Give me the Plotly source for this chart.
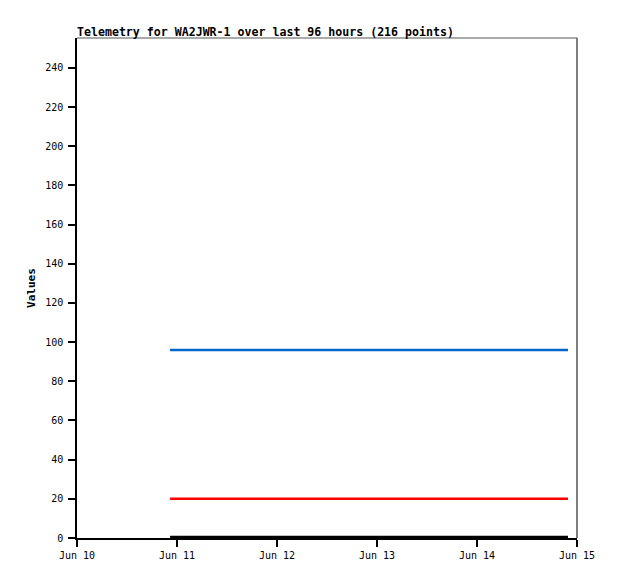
import plotly.graph_objects as go

title_text = "Telemetry for WA2JWR-1 over last 96 hours (216 points)"
times = ["2025-06-10 22:20", "2025-06-14 21:50"]
series_names = ["Value 1", "Value 2", "Value 3"]
series_values = [[96, 96], [20, 20], [0.5, 0.5]]
series_colors = ["#0066CC", "#FF0000", "#000000"]
series_widths = [2.5, 2.5, 2.5]
x_ticks = ["2025-06-10", "2025-06-11", "2025-06-12", "2025-06-13", "2025-06-14", "2025-06-15"]
x_tick_labels = ["Jun 10", "Jun 11", "Jun 12", "Jun 13", "Jun 14", "Jun 15"]
y_ticks = list(range(0, 241, 20))

W, H = 610, 571  # page body has an 8px margin

fig = go.Figure()
for name, vals, col, w in zip(series_names, series_values, series_colors, series_widths):
    fig.add_trace(go.Scatter(x=times, y=vals, mode="lines", name=name,
                             line=dict(color=col, width=w), showlegend=False))

# top and right gray border
fig.add_shape(type="line", xref="paper", yref="paper", x0=0, x1=1, y0=1, y1=1,
              line=dict(color="#555555", width=1))
fig.add_shape(type="line", xref="paper", yref="paper", x0=1, x1=1, y0=0, y1=1,
              line=dict(color="#555555", width=1.5))

fig.update_layout(
    width=W, height=H,
    margin=dict(l=69, r=41, t=30, b=41),
    paper_bgcolor="white", plot_bgcolor="white",
    font=dict(family="DejaVu Sans Mono", size=10, color="black"),
    title=dict(text="<b>" + title_text + "</b>", x=69/W, xanchor="left",
               y=1 - 23.5/H, yanchor="middle",
               font=dict(family="DejaVu Sans Mono", size=11.6, color="black")),
    xaxis=dict(type="date", range=["2025-06-10", "2025-06-15"],
               tickvals=x_ticks, ticktext=x_tick_labels,
               showgrid=False, zeroline=False, showline=True, linecolor="black", linewidth=1.5,
               ticks="outside", ticklen=7, tickcolor="black", tickwidth=1.5,
               ticklabelstandoff=0,
               tickfont=dict(family="DejaVu Sans Mono", size=10)),
    yaxis=dict(range=[0, 255.3], tickvals=y_ticks,
               showgrid=False, zeroline=False, showline=True, linecolor="black", linewidth=1.5,
               ticks="outside", ticklen=7, tickcolor="black", tickwidth=1.5,
               ticklabelstandoff=3,
               tickfont=dict(family="DejaVu Sans Mono", size=10),
               title=dict(text="<b>Values</b>", standoff=7,
                          font=dict(family="DejaVu Sans Mono", size=11))),
)

fig.write_html("out.html")
